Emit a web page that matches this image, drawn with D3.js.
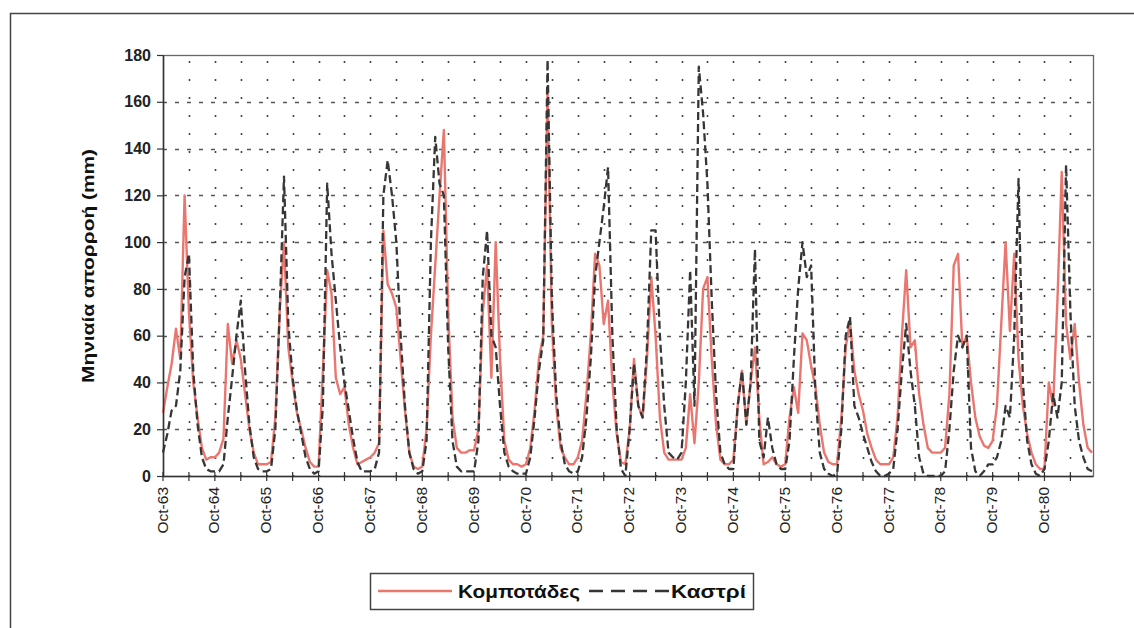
<!DOCTYPE html>
<html>
<head>
<meta charset="utf-8">
<script src="https://cdn.jsdelivr.net/npm/d3@7"></script>
<style>
  html, body { margin: 0; padding: 0; background: #fff; }
  svg { display: block; }
</style>
</head>
<body>
<svg id="chart" width="1134" height="628"></svg>
<script>
// Monthly runoff (mm), hydrological years Oct-63 .. Sep-81 (216 months)
const tickLabels = ["Oct-63","Oct-64","Oct-65","Oct-66","Oct-67","Oct-68","Oct-69","Oct-70","Oct-71",
                    "Oct-72","Oct-73","Oct-74","Oct-75","Oct-76","Oct-77","Oct-78","Oct-79","Oct-80"];
const yTicks = [0, 20, 40, 60, 80, 100, 120, 140, 160, 180];
const seriesNames = ["Κομποτάδες", "Καστρί"];

const kompotades = [
  27, 38, 48, 63, 50, 120, 70, 40, 25, 12, 7, 8,
  8, 10, 16, 65, 48, 58, 50, 35, 20, 10, 5, 5,
  5, 6, 25, 70, 100, 55, 40, 27, 20, 12, 6, 4,
  4, 45, 88, 78, 42, 35, 38, 22, 12, 5, 6, 7,
  8, 10, 14, 105, 82, 78, 72, 50, 28, 10, 4, 3,
  4, 20, 60, 90, 120, 148, 70, 25, 12, 10, 10, 11,
  11, 20, 70, 90, 42, 100, 50, 15, 7, 5, 5, 4,
  5, 12, 28, 50, 60, 165, 65, 30, 12, 8, 5, 5,
  8, 15, 35, 60, 95, 90, 65, 75, 40, 18, 6, 5,
  20, 50, 30, 25, 50, 85, 60, 25, 10, 7, 7, 7,
  7, 12, 35, 14, 40, 80, 85, 50, 22, 7, 5, 5,
  7, 30, 45, 22, 40, 55, 25, 5, 6, 8, 5, 4,
  5, 25, 38, 27, 61, 58, 47, 38, 22, 10, 6, 5,
  5, 25, 55, 66, 45, 35, 28, 18, 12, 7, 5, 5,
  5, 8, 25, 60, 88, 55, 58, 35, 22, 12, 10, 10,
  10, 12, 35, 90, 95, 55, 60, 40, 25, 17, 13, 12,
  15, 30, 65, 100, 62, 95, 50, 30, 18, 10, 5, 3,
  3, 40, 30, 75, 130, 65, 50, 65, 40, 22, 12, 10
];

const kastri = [
  10, 18, 28, 30, 45, 85, 95, 45, 22, 8, 3, 2,
  2, 2, 5, 25, 42, 60, 75, 45, 22, 8, 3, 2,
  2, 3, 20, 70, 128, 65, 42, 28, 18, 8, 3, 1,
  2, 30, 125, 95, 75, 55, 40, 28, 16, 6, 2, 2,
  2, 3, 10, 120, 135, 120, 100, 60, 30, 10, 3, 1,
  2, 15, 100, 145, 125, 120, 55, 15, 4, 2, 2, 2,
  2, 15, 85, 105, 60, 55, 30, 10, 4, 2, 1, 1,
  1, 8, 25, 45, 58, 178, 75, 35, 15, 5, 2, 1,
  2, 8, 25, 50, 85, 100, 115, 132, 60, 20, 3, 0,
  20, 48, 30, 25, 55, 105, 105, 60, 30, 10, 8, 7,
  10, 40, 88, 30, 175, 155, 125, 75, 35, 10, 5, 3,
  3, 30, 45, 22, 40, 97, 15, 8, 25, 12, 5, 3,
  3, 15, 50, 80, 100, 85, 90, 35, 10, 3, 1, 0,
  1, 20, 60, 68, 30, 25, 18, 12, 6, 2, 0, 0,
  1, 3, 20, 45, 65, 45, 30, 8, 1, 0, 0, 0,
  0, 2, 20, 45, 60, 55, 60, 12, 2, 0, 2, 5,
  5, 8, 15, 30, 25, 60, 127, 40, 15, 5, 1, 0,
  3, 15, 35, 25, 40, 133, 70, 30, 15, 8, 3, 2
];

const svg = d3.select("#chart");
const pL = 163, pR = 1092, pT = 55, pB = 476;
const FONT = "Liberation Sans, Arial, sans-serif";

// outer frame
svg.append("rect").attr("x", 10.5).attr("y", 13.5).attr("width", 1140).attr("height", 640)
  .attr("fill", "#fff").attr("stroke", "#444").attr("stroke-width", 1.5);

const x = d3.scaleLinear().domain([0, kompotades.length - 1]).range([pL, pR]);
const y = d3.scaleLinear().domain([0, 180]).range([pB, pT]);

const g = svg.append("g");

// horizontal dashed gridlines
g.append("g").selectAll("line").data(yTicks.filter(d => d > 0 && d < 180)).join("line")
  .attr("x1", pL).attr("x2", pR + 1)
  .attr("y1", d => Math.round(y(d)) + 0.5).attr("y2", d => Math.round(y(d)) + 0.5)
  .attr("stroke", "#555").attr("stroke-width", 1.3).attr("stroke-dasharray", "4,8");

// vertical dotted gridlines every 6 months
const halfYearTicks = d3.range(6, kompotades.length, 6);
g.append("g").selectAll("line").data(halfYearTicks).join("line")
  .attr("x1", d => Math.round(x(d)) + 0.5).attr("x2", d => Math.round(x(d)) + 0.5)
  .attr("y1", pT + 6).attr("y2", pB)
  .attr("stroke", "#444").attr("stroke-width", 1.6).attr("stroke-dasharray", "2,16");

// plot border
g.append("rect").attr("x", pL + 0.5).attr("y", pT + 0.5)
  .attr("width", pR - pL + 1).attr("height", pB - pT)
  .attr("fill", "none").attr("stroke", "#666").attr("stroke-width", 1.3);

// series
const line = d3.line().x((d, i) => x(i)).y(d => y(d));
g.append("path").datum(kompotades).attr("d", line)
  .attr("fill", "none").attr("stroke", "#ea776f").attr("stroke-width", 2.4)
  .attr("stroke-linejoin", "round");
g.append("path").datum(kastri).attr("d", line)
  .attr("fill", "none").attr("stroke", "#363636").attr("stroke-width", 2.3)
  .attr("stroke-dasharray", "8,4").attr("stroke-linejoin", "round");

// Y axis
const yAxis = d3.axisLeft(y).tickValues(yTicks).tickSize(6).tickSizeOuter(0).tickPadding(6);
const ya = svg.append("g").attr("transform", `translate(${pL},0)`).call(yAxis);
ya.select(".domain").attr("stroke", "#333").attr("stroke-width", 1.5);
ya.selectAll(".tick line").attr("stroke", "#333").attr("stroke-width", 1.2);
ya.selectAll(".tick text").attr("font-family", FONT)
  .attr("font-size", 16).attr("font-weight", "bold").attr("fill", "#222");

// X axis with crossing ticks every 6 months
const xa = svg.append("g").attr("transform", `translate(0,${pB})`);
xa.append("line").attr("x1", pL).attr("x2", pR + 1).attr("y1", 0.5).attr("y2", 0.5)
  .attr("stroke", "#333").attr("stroke-width", 1.5);
xa.selectAll("line.tk").data(d3.range(0, kompotades.length, 6)).join("line").attr("class", "tk")
  .attr("x1", d => x(d)).attr("x2", d => x(d)).attr("y1", -4).attr("y2", 5)
  .attr("stroke", "#333").attr("stroke-width", 1.2);
xa.selectAll("text").data(tickLabels).join("text")
  .attr("transform", (d, i) => `translate(${x(i * 12) - 1},${11}) rotate(-90)`)
  .attr("text-anchor", "end").attr("dy", "0.36em")
  .attr("font-family", FONT).attr("font-size", 15.5)
  .attr("fill", "#222").text(d => d);

// Y axis title
svg.append("text").attr("transform", "translate(94,266) rotate(-90)")
  .attr("text-anchor", "middle")
  .attr("font-family", FONT).attr("font-size", 17)
  .attr("font-weight", "bold").attr("fill", "#111")
  .attr("textLength", 234).attr("lengthAdjust", "spacingAndGlyphs")
  .text("Μηνιαία απορροή (mm)");

// Legend
const lg = svg.append("g");
lg.append("rect").attr("x", 370.5).attr("y", 573.5).attr("width", 383).attr("height", 36)
  .attr("fill", "#fff").attr("stroke", "#444").attr("stroke-width", 1.5);
lg.append("line").attr("x1", 378).attr("x2", 452).attr("y1", 591).attr("y2", 591)
  .attr("stroke", "#ea776f").attr("stroke-width", 2.4);
lg.append("text").attr("x", 458).attr("y", 597.5)
  .attr("font-family", FONT).attr("font-size", 18)
  .attr("font-weight", "bold").attr("fill", "#111")
  .attr("textLength", 122).attr("lengthAdjust", "spacingAndGlyphs").text(seriesNames[0]);
lg.append("line").attr("x1", 589).attr("x2", 669).attr("y1", 591).attr("y2", 591)
  .attr("stroke", "#363636").attr("stroke-width", 2.3).attr("stroke-dasharray", "14,8");
lg.append("text").attr("x", 671).attr("y", 597.5)
  .attr("font-family", FONT).attr("font-size", 18)
  .attr("font-weight", "bold").attr("fill", "#111")
  .attr("textLength", 75).attr("lengthAdjust", "spacingAndGlyphs").text(seriesNames[1]);
</script>
</body>
</html>
